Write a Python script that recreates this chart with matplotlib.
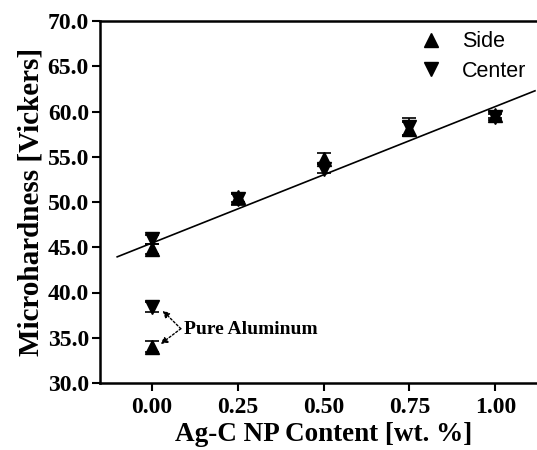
import matplotlib
matplotlib.use("Agg")
import matplotlib.pyplot as plt
import numpy as np

# values
content = [0.00, 0.25, 0.50, 0.75, 1.00]
side_hv = [44.8, 50.5, 54.8, 58.1, 59.6]
side_err = [0.6, 0.5, 0.6, 0.7, 0.3]
center_hv = [45.9, 50.3, 53.7, 58.3, 59.4]
center_err = [0.5, 0.6, 0.5, 1.0, 0.3]

pure_content = [0.00]
pure_side = [34.0]
pure_side_err = [0.6]
pure_center = [38.4]
pure_center_err = [0.5]

fit_slope = 15.1
fit_intercept = 45.45
fit_span = [-0.10, 1.115]

xticks = [0.00, 0.25, 0.50, 0.75, 1.00]
yticks = [30, 35, 40, 45, 50, 55, 60, 65, 70]

SERIF = "Liberation Serif"
SANS = "Liberation Sans"

fig = plt.figure(figsize=(5.37, 4.5), dpi=100)
ax = fig.add_axes([100 / 537, 67 / 450, 447 / 537, 362 / 450])

eb = dict(fmt="none", ecolor="black", elinewidth=1.2, capsize=5, capthick=1.2)
ax.errorbar(content, side_hv, yerr=side_err, **eb)
ax.errorbar(content, center_hv, yerr=center_err, **eb)
ax.errorbar(pure_content, pure_side, yerr=pure_side_err, **eb)
ax.errorbar(pure_content, pure_center, yerr=pure_center_err, **eb)

ax.plot(content, side_hv, "^", color="black", ms=10.5, label="Side")
ax.plot(content, center_hv, "v", color="black", ms=10.5, label="Center")
ax.plot(pure_content, pure_side, "^", color="black", ms=10.5)
ax.plot(pure_content, pure_center, "v", color="black", ms=10.5)

fx = np.array(fit_span)
ax.plot(fx, fit_intercept + fit_slope * fx, color="black", lw=1.2)

# "Pure Aluminum" note with dotted arrows to the two pure points
txt_xy = (0.085, 36.0)
ax.text(0.095, 35.9, "Pure Aluminum", family=SERIF, fontweight="bold",
        fontsize=14, va="center", ha="left")
for tgt in [(0.032, 38.0), (0.026, 34.3)]:
    ax.annotate("", xy=tgt, xytext=txt_xy,
                arrowprops=dict(arrowstyle="-|>", linestyle=(0, (1.5, 1.5)),
                                color="black", lw=1.0, mutation_scale=10,
                                shrinkA=0, shrinkB=0))

ax.set_xlim(-0.15, 1.15)
ax.set_ylim(30, 70)
ax.set_xticks(xticks)
ax.set_yticks(yticks)
ax.set_xticklabels([f"{v:.2f}" for v in xticks])
ax.set_yticklabels([f"{v:.1f}" for v in yticks])

for lab in ax.get_xticklabels() + ax.get_yticklabels():
    lab.set_family(SERIF)
    lab.set_fontweight("bold")
    lab.set_fontsize(17)

ax.tick_params(direction="out", length=6, width=1.5, pad=2)
ax.tick_params(axis="x", pad=4)
ax.spines["right"].set_visible(False)
for s in ["left", "bottom", "top"]:
    ax.spines[s].set_linewidth(1.8)

ax.set_xlabel("Ag-C NP Content [wt. %]", family=SERIF, fontweight="bold",
              fontsize=19.5, labelpad=3)
ax.set_ylabel("Microhardness [Vickers]", family=SERIF, fontweight="bold",
              fontsize=21, labelpad=2)

ax.legend(loc="upper left", bbox_to_anchor=(390 / 537, 1 - 12 / 450),
          bbox_transform=fig.transFigure, frameon=False,
          prop=dict(family=SANS, size=15.5), handletextpad=0.45,
          labelspacing=0.4, borderpad=0.4, handlelength=2)

fig.savefig("out.png", dpi=100)
